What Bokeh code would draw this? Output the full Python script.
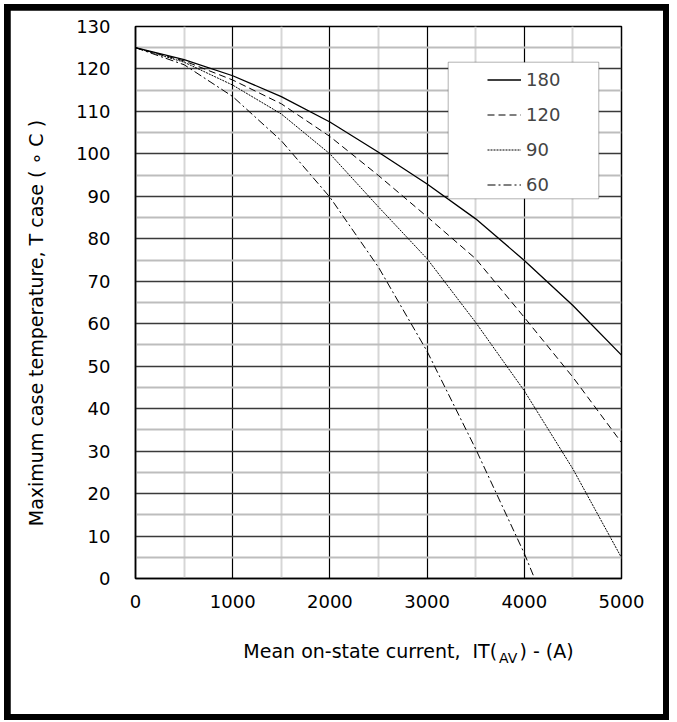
import math
from bokeh.plotting import figure
from bokeh.layouts import column
from bokeh.models import (Range1d, FixedTicker, Legend, LegendItem, BoxAnnotation,
                          LinearAxis)
from bokeh.core.properties import value
from bokeh.embed import file_html
from bokeh.resources import INLINE

# ---- data ----
current = [0, 500, 1000, 1500, 2000, 2500, 3000, 3500, 4000, 4500, 5000]
temp_180 = [125, 122.2, 118.4, 113.5, 107.5, 100.4, 92.9, 84.7, 74.9, 64.3, 52.6]
temp_120 = [125, 121.9, 117.4, 111.8, 104.1, 94.9, 85.2, 75.3, 61.5, 47.4, 32.0]
temp_90 = [125, 121.6, 116.2, 109.4, 100.0, 87.5, 75.3, 60.3, 44.2, 25.8, 4.9]
current_60 = [0, 500, 1000, 1500, 2000, 2500, 3000, 3500, 4000, 4106]
temp_60 = [125, 121.0, 113.5, 103.1, 89.8, 73.3, 53.5, 30.5, 5.9, 0]

series_labels = ["180", "120", "90", "60"]
x_ticks = [0, 1000, 2000, 3000, 4000, 5000]
x_minor = [500, 1500, 2500, 3500, 4500]
y_ticks = [0, 10, 20, 30, 40, 50, 60, 70, 80, 90, 100, 110, 120, 130]
y_minor = [5, 15, 25, 35, 45, 55, 65, 75, 85, 95, 105, 115, 125]

x_title_main = "Mean on-state current, \u00a0IT("
x_title_sub = "AV"
x_title_end = ") - (A)"
y_title = "Maximum case temperature, T case ( \u2218 C )"

# anchor positions (data units) of the title pieces
X_TITLE_MAIN_AT = 2415
X_TITLE_SUB_AT = 3834
X_TITLE_END_AT = 4229
Y_TITLE_AT = 108

FONT = "DejaVu Sans"

fig = figure(width=653, height=704, x_range=Range1d(0, 5000), y_range=Range1d(0, 130),
             output_backend="svg", toolbar_location=None, margin=6,
             min_border_left=125, min_border_right=42, min_border_top=16, min_border_bottom=136)

fig.background_fill_color = "white"
fig.border_fill_color = "white"
fig.outline_line_color = "black"
fig.outline_line_width = 1.5

xax = fig.xaxis[0]
yax = fig.yaxis[0]

# tickers / grids
xax.ticker = FixedTicker(ticks=x_ticks, minor_ticks=x_minor)
yax.ticker = FixedTicker(ticks=y_ticks, minor_ticks=y_minor)
fig.xgrid.ticker = FixedTicker(ticks=x_ticks, minor_ticks=x_minor)
fig.ygrid.ticker = FixedTicker(ticks=y_ticks, minor_ticks=y_minor)

fig.xgrid.grid_line_color = "black"
fig.xgrid.grid_line_width = 1.2
fig.xgrid.minor_grid_line_color = "#d6d6d6"
fig.xgrid.minor_grid_line_width = 2
fig.ygrid.grid_line_color = "#3a3a3a"
fig.ygrid.grid_line_width = 1.5
fig.ygrid.minor_grid_line_color = "#bdbdbd"
fig.ygrid.minor_grid_line_width = 2


def plain(ax, size, standoff):
    ax.major_tick_line_color = None
    ax.minor_tick_line_color = None
    ax.major_tick_out = 0
    ax.major_tick_in = 0
    ax.minor_tick_out = 0
    ax.minor_tick_in = 0
    ax.major_label_text_font = FONT
    ax.major_label_text_font_size = size
    ax.major_label_text_color = "black"
    ax.major_label_standoff = standoff


plain(xax, "18px", 16)
plain(yax, "18px", 25)
xax.axis_line_color = "black"
xax.axis_line_width = 1.5
yax.axis_line_color = "black"
yax.axis_line_width = 1.5

# curves
r180 = fig.line(current, temp_180, line_color="black", line_width=1.3)
r120 = fig.line(current, temp_120, line_color="black", line_width=1, line_dash="7 4")
r90 = fig.line(current, temp_90, line_color="black", line_width=1, line_dash="2 1")
r60 = fig.line(current_60, temp_60, line_color="black", line_width=1, line_dash="8 3 2 3")

# legend frame + legend
legend_box = BoxAnnotation(left=312.7, right=463.3, top=516.3, bottom=379.7,
                           left_units="screen", right_units="screen",
                           top_units="screen", bottom_units="screen",
                           fill_color="white", fill_alpha=1.0,
                           line_color="black", line_width=1)
fig.add_layout(legend_box)

legend = Legend(items=[LegendItem(label=value(series_labels[0]), renderers=[r180]),
                       LegendItem(label=value(series_labels[1]), renderers=[r120]),
                       LegendItem(label=value(series_labels[2]), renderers=[r90]),
                       LegendItem(label=value(series_labels[3]), renderers=[r60])],
                location=(352, 383), padding=0, margin=0, spacing=14,
                glyph_width=34, glyph_height=21, label_height=21, label_standoff=5,
                label_text_font=FONT, label_text_font_size="18px",
                border_line_color=None, background_fill_alpha=0)
fig.add_layout(legend)

# x title: main text + end text on one invisible axis, subscript on another
title_ax = LinearAxis(ticker=FixedTicker(ticks=[X_TITLE_MAIN_AT, X_TITLE_END_AT]),
                      major_label_overrides={X_TITLE_MAIN_AT: x_title_main,
                                             X_TITLE_END_AT: x_title_end},
                      axis_line_color=None)
plain(title_ax, "19px", 29)
fig.add_layout(title_ax, "below")

sub_ax = LinearAxis(ticker=FixedTicker(ticks=[X_TITLE_SUB_AT]),
                    major_label_overrides={X_TITLE_SUB_AT: x_title_sub},
                    axis_line_color=None)
plain(sub_ax, "14px", -15)
fig.add_layout(sub_ax, "below")

# y title on an invisible left axis
ytitle_ax = LinearAxis(ticker=FixedTicker(ticks=[Y_TITLE_AT]),
                       major_label_overrides={Y_TITLE_AT: y_title},
                       major_label_orientation=math.pi / 2,
                       axis_line_color=None)
plain(ytitle_ax, "19px", 37)
fig.add_layout(ytitle_ax, "left")

# black page frame: black container background showing through the figure margin
p = column(fig, margin=(4, 4, 0, 4), styles={"background-color": "black"})

open("out.html", "w").write(file_html(p, INLINE))
